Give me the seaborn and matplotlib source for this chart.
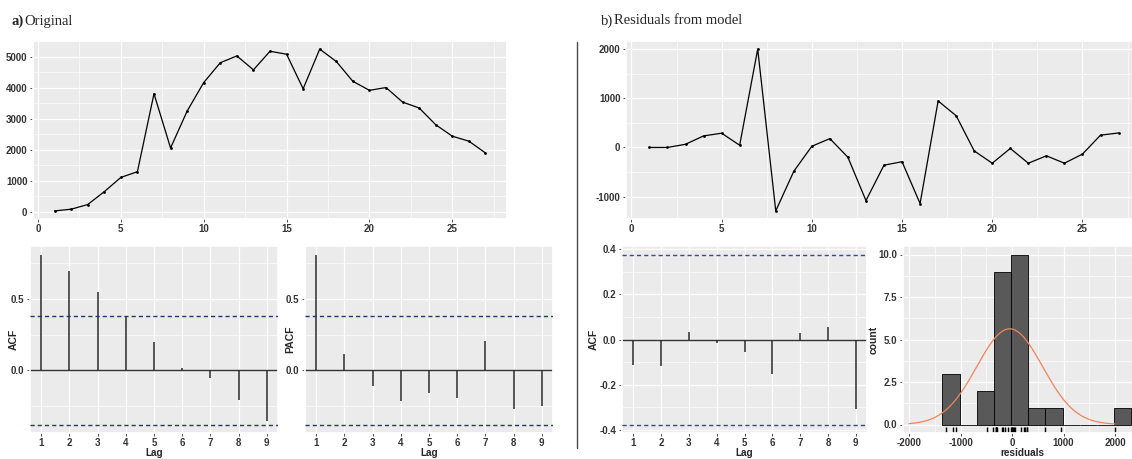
import numpy as np
import pandas as pd
import seaborn as sns
import matplotlib
matplotlib.use('Agg')
import matplotlib.pyplot as plt

# データ (読み取り値)
time_idx = list(range(1, 28))
original = [20, 75, 225, 640, 1100, 1285, 3800, 2050, 3240, 4160, 4800, 5020, 4570, 5170,
            5075, 3960, 5240, 4840, 4200, 3910, 4000, 3530, 3340, 2800, 2430, 2270, 1890]
residuals = [0, 0, 65, 235, 290, 45, 2000, -1290, -485, 25, 180, -200, -1080, -360,
             -290, -1140, 945, 645, -70, -320, -20, -320, -170, -320, -135, 250, 295]
lags = [1, 2, 3, 4, 5, 6, 7, 8, 9]
acf_orig = [0.81, 0.693, 0.55, 0.38, 0.202, 0.016, -0.052, -0.209, -0.355]
pacf_orig = [0.81, 0.118, -0.109, -0.211, -0.155, -0.195, 0.209, -0.268, -0.245]
acf_resid = [-0.111, -0.119, 0.033, -0.017, -0.055, -0.151, 0.031, 0.054, -0.309]

sns.set_theme(style='darkgrid', rc={
    'axes.facecolor': '#EBEBEB',
    'grid.color': 'white',
    'grid.linewidth': 0.9,
    'xtick.bottom': True,
    'ytick.left': True,
    'xtick.major.size': 2.5,
    'ytick.major.size': 2.5,
    'xtick.major.width': 0.6,
    'ytick.major.width': 0.6,
    'xtick.color': '#333333',
    'ytick.color': '#333333',
    'xtick.major.pad': 1.2,
    'ytick.major.pad': 1.5,
    'axes.unicode_minus': False,
})
plt.rcParams['font.family'] = ['Liberation Sans', 'DejaVu Sans']

W, H = 1132, 459
fig = plt.figure(figsize=(W / 100, H / 100), dpi=100)


def px_axes(left, right, top, bottom):
    return fig.add_axes([left / W, 1 - bottom / H, (right - left) / W, (bottom - top) / H])


def expand(lo, hi, f=0.05):
    d = (hi - lo) * f
    return lo - d, hi + d


def style(ax, xmaj, xmin, ymaj, ymin, yfmt=None):
    ax.set_xticks(xmaj)
    ax.set_yticks(ymaj)
    if xmin is not None:
        ax.set_xticks(xmin, minor=True)
    if ymin is not None:
        ax.set_yticks(ymin, minor=True)
    if yfmt:
        ax.set_yticklabels([yfmt.format(v) for v in ymaj])
    ax.tick_params(which='minor', length=0)
    ax.tick_params(labelsize=7)
    for lab in ax.get_xticklabels() + ax.get_yticklabels():
        lab.set_fontweight('bold')
    ax.grid(which='major', color='white', lw=0.9)
    ax.grid(which='minor', color='white', lw=0.45)
    ax.set_axisbelow(True)
    ax.set_xlabel('')
    ax.set_ylabel('')


def labels(ax, xlab, ylab, yx, xy=-0.081):
    ax.set_xlabel(xlab, fontsize=7.2, fontweight='bold')
    ax.set_ylabel(ylab, fontsize=7.5, fontweight='bold')
    ax.xaxis.set_label_coords(0.5, xy)
    ax.yaxis.set_label_coords(yx, 0.5)


# 上段: 時系列
ax1 = px_axes(33, 507, 41, 219)
sns.lineplot(x=time_idx, y=original, ax=ax1, color='black', lw=0.9,
             marker='o', markersize=2, markeredgewidth=0)
ax1.set_xlim(*expand(min(time_idx), max(time_idx)))
ax1.set_ylim(*expand(min(original), max(original)))
style(ax1, [0, 5, 10, 15, 20, 25], [2.5, 7.5, 12.5, 17.5, 22.5, 27.5],
      [0, 1000, 2000, 3000, 4000, 5000], [500, 1500, 2500, 3500, 4500])

ax2 = px_axes(626, 1142, 41, 219)
sns.lineplot(x=time_idx, y=residuals, ax=ax2, color='black', lw=0.9,
             marker='o', markersize=2, markeredgewidth=0)
ax2.set_xlim(*expand(min(time_idx), max(time_idx)))
ax2.set_ylim(*expand(min(residuals), max(residuals)))
style(ax2, [0, 5, 10, 15, 20, 25], [2.5, 7.5, 12.5, 17.5, 22.5, 27.5],
      [-1000, 0, 1000, 2000], [-500, 500, 1500])

# 下段: ACF / PACF
ci = 1.96 / np.sqrt(len(original))


def acf_panel(ax, vals, ci_color):
    ax.axhline(0, color='#333333', lw=1, zorder=2)
    ax.vlines(lags, 0, vals, color='#2a2a2a', lw=1.1, zorder=3)
    ax.axhline(ci, color=ci_color, lw=1, dashes=(3, 2.2), zorder=3)
    ax.axhline(-ci, color=ci_color, lw=1, dashes=(3, 2.2), zorder=3)
    ax.set_xlim(0.6, 9.4)
    ax.set_ylim(*expand(min(min(vals), -ci), max(max(vals), ci)))


TOP, BOT = 246, 433

ax3 = px_axes(30, 278, TOP, BOT)
acf_panel(ax3, acf_orig, '#23386e')
style(ax3, lags, None, [0.0, 0.5], [-0.25, 0.25, 0.75], '{:.1f}')
labels(ax3, 'Lag', 'ACF', -0.044)

ax4 = px_axes(305, 553, TOP, BOT)
acf_panel(ax4, pacf_orig, '#23386e')
style(ax4, lags, None, [0.0, 0.5], [-0.25, 0.25, 0.75], '{:.1f}')
labels(ax4, 'Lag', 'PACF', -0.04)

ax5 = px_axes(622, 867, TOP, BOT)
acf_panel(ax5, acf_resid, '#3447a8')
style(ax5, lags, None, [-0.4, -0.2, 0.0, 0.2, 0.4], [-0.3, -0.1, 0.1, 0.3], '{:.1f}')
labels(ax5, 'Lag', 'ACF', -0.094)

# 残差ヒストグラム
ax6 = px_axes(903, 1142, TOP, BOT)
binwidth = 333
sns.histplot(x=residuals, ax=ax6, binwidth=binwidth, binrange=(-1350, 2313),
             color='#595959', edgecolor='black', linewidth=0.6, alpha=1, zorder=2)
res = np.array(residuals, dtype=float)
mu, sd = res.mean(), res.std(ddof=1)
xs = np.linspace(-2000, 2000, 300)
dens = len(res) * binwidth * np.exp(-0.5 * ((xs - mu) / sd) ** 2) / (sd * np.sqrt(2 * np.pi))
sns.lineplot(x=xs, y=dens, ax=ax6, color='#f2845a', lw=0.9, zorder=4)
sns.rugplot(x=residuals, ax=ax6, height=0.03, color='black', lw=0.6)
ax6.set_xlim(-2117, 2524)
ax6.set_ylim(-0.5, 10.5)
style(ax6, [-2000, -1000, 0, 1000, 2000], [-1500, -500, 500, 1500],
      [0, 2.5, 5.0, 7.5, 10.0], [1.25, 3.75, 6.25, 8.75], '{:.1f}')
labels(ax6, 'residuals', 'count', -0.1)

# タイトルと区切り線
serif = ['Liberation Serif', 'DejaVu Serif']
fig.text(12 / W, 1 - 21 / H, 'a)', family=serif, fontsize=10.5, fontweight='bold', va='center')
fig.text(24 / W, 1 - 21 / H, 'Original', family=serif, fontsize=10.5, va='center')
fig.text(601 / W, 1 - 21 / H, 'b)', family=serif, fontsize=10.5, va='center')
fig.text(614 / W, 1 - 21 / H, 'Residuals from model', family=serif, fontsize=10.5, va='center')
fig.add_artist(plt.Line2D([577 / W, 577 / W], [1 - 42 / H, 1 - 448 / H],
                          color='#4a4a4a', lw=1))

fig.savefig('out.png', dpi=100)
